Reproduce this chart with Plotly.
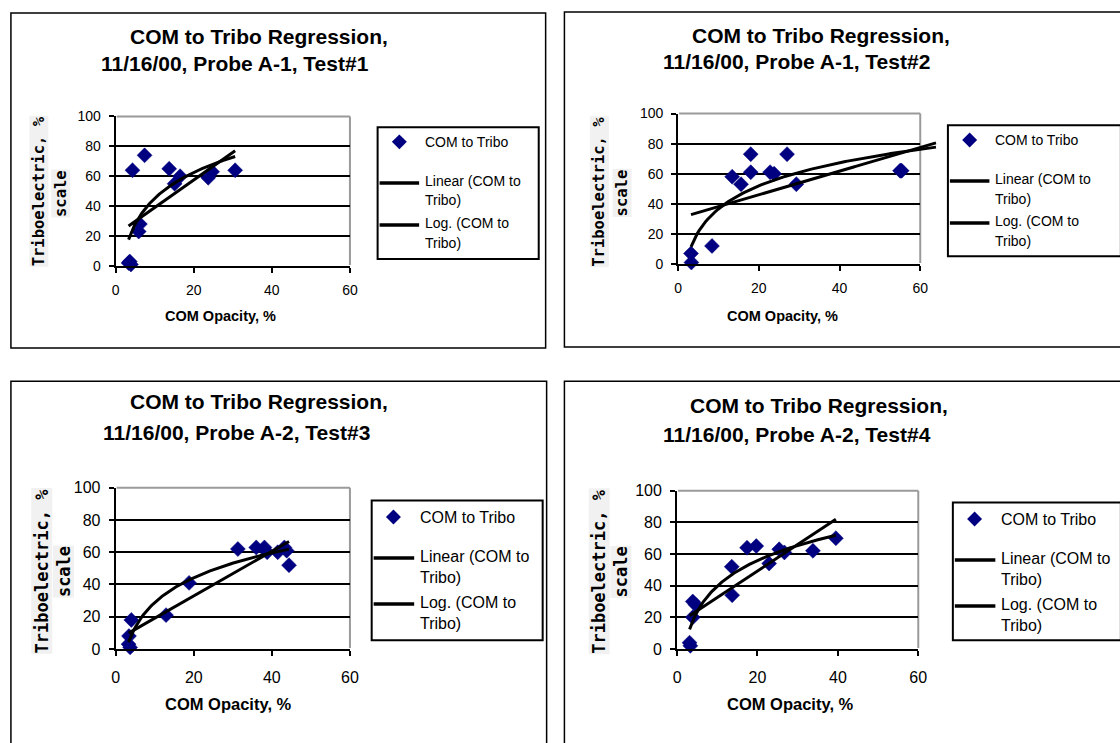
import numpy as np
import plotly.graph_objects as go

W, H = 1120, 743

# ---------------- data ----------------
title_line1 = ["COM to Tribo Regression,"] * 4
title_line2 = ["11/16/00, Probe A-1, Test#1", "11/16/00, Probe A-1, Test#2",
               "11/16/00, Probe A-2, Test#3", "11/16/00, Probe A-2, Test#4"]
x_title = "COM Opacity, %"
y_title1 = "Triboelectric, %"
y_title2 = "scale"
legend_lines = [["COM to Tribo"], ["Linear (COM to", "Tribo)"], ["Log. (COM to", "Tribo)"]]

x_ticks = [0, 20, 40, 60]
y_ticks = [0, 20, 40, 60, 80, 100]

t1_x = [3.3, 3.6, 3.9, 4.3, 5.9, 6.2, 7.4, 13.7, 15.1, 16.5, 23.7, 24.7, 30.6]
t1_y = [2, 3, 1, 64, 23, 28, 74, 65, 55, 60, 59, 63, 64]

t2_x = [3.2, 3.3, 8.4, 13.4, 15.6, 18.0, 18.0, 22.8, 23.8, 27.0, 29.3, 55.0, 55.2, 55.4]
t2_y = [7, 1, 12, 58, 53, 73, 61, 61, 60, 73, 53, 62, 62, 62]

t3_x = [3.3, 3.4, 3.7, 4.0, 12.9, 18.8, 31.3, 36.0, 38.1, 38.8, 41.5, 43.2, 43.8, 44.4]
t3_y = [3, 8, 1, 18, 21, 41, 62, 63, 63, 60, 60, 63, 61, 52]

t4_x = [3.1, 3.3, 3.9, 4.6, 3.9, 13.6, 13.7, 17.4, 19.7, 22.9, 25.4, 26.7, 33.8, 39.5]
t4_y = [4, 2, 30, 28, 20, 52, 34, 64, 65, 54, 63, 61, 62, 70]

tests_x = [t1_x, t2_x, t3_x, t4_x]
tests_y = [t1_y, t2_y, t3_y, t4_y]
forecast_forward = [0, 8.5, 0, 0]   # Excel trendline forward forecast

# ---------------- layout geometry (pixels) ----------------
plot_boxes = [(113, 350, 111, 264), (682, 927, 108, 262),
              (113, 350, 491, 656), (681, 925, 494, 656)]
outer_boxes = [(7, 548, 5, 348), (567, 1130, 4, 347),
               (7, 549, 382, 760), (567, 1130, 382, 760)]
legend_boxes = [(378, 541, 122, 257), (955, 1130, 120, 254),
                (372, 545, 504, 647), (960, 1130, 506, 647)]
title_pos = [((258, 29), (234, 57)), ((827, 28), (802, 55)),
             ((258, 403), (235, 434)), ((825, 407), (802, 436))]
xtitle_pos = [(219, 315), (788, 315), (227, 712), (796, 712)]
ytitle_pos = [((35, 188), (57, 190)), ((602, 188), (625, 189)),
              ((38, 576), (60, 577)), ((602, 577), (624, 577))]
small = [True, True, False, False]
leg_rows_small = [15, 55, 75, 98, 118]
leg_rows_large = [17, 57, 79, 104, 126]

NAVY = "#000080"
BASE = "Liberation Sans, Arial, sans-serif"


def px(x):
    return x / W


def py(y):
    return 1 - y / H


fig = go.Figure()
shapes = []
annotations = []

for i in range(4):
    n = i + 1
    xa = "x" if n == 1 else f"x{n}"
    ya = "y" if n == 1 else f"y{n}"
    l, r, t, b = plot_boxes[i]
    tick_fs = 14 if small[i] else 16
    leg_fs = 14 if small[i] else 16
    ax_fs = 14.5 if small[i] else 16.5
    yt_fs = 15.5 if small[i] else 17

    xs = np.array(tests_x[i], dtype=float)
    ys = np.array(tests_y[i], dtype=float)

    # regression trendlines (as Excel: linear and logarithmic)
    lin = np.polyfit(xs, ys, 1)
    lg = np.polyfit(np.log(xs), ys, 1)
    x_end = xs.max() + forecast_forward[i]
    xx = np.linspace(xs.min(), x_end, 120)

    fig.add_trace(go.Scatter(x=xs, y=ys, mode="markers", xaxis=xa, yaxis=ya,
                             marker=dict(symbol="diamond", size=11.5, color=NAVY,
                                         line=dict(color=NAVY, width=0.5)),
                             cliponaxis=False, showlegend=False,
                             name="COM to Tribo"))

    if forecast_forward[i] > 0:
        txa, tya = f"x{n + 4}", f"y{n + 4}"
        scale = (r - l) / 60.0
        r_ext = l + x_end * scale + 3
        fig.layout[f"xaxis{n + 4}"] = dict(domain=[px(l), px(r_ext)],
                                           range=[0, (r_ext - l) / scale],
                                           visible=False, anchor=tya)
        fig.layout[f"yaxis{n + 4}"] = dict(domain=[py(b), py(t)], range=[0, 100],
                                           visible=False, anchor=txa)
    else:
        txa, tya = xa, ya

    fig.add_trace(go.Scatter(x=xx, y=np.polyval(lin, xx), mode="lines",
                             xaxis=txa, yaxis=tya, line=dict(color="black", width=3),
                             showlegend=False, name="Linear"))
    fig.add_trace(go.Scatter(x=xx, y=np.polyval(lg, np.log(xx)), mode="lines",
                             xaxis=txa, yaxis=tya, line=dict(color="black", width=3),
                             showlegend=False, name="Log"))

    axis_common = dict(showline=True, linecolor="black", linewidth=2,
                       ticks="outside", ticklen=5, tickwidth=2, tickcolor="black",
                       zeroline=False, tickfont=dict(family=BASE, size=tick_fs, color="black"))
    fig.layout["xaxis" if n == 1 else f"xaxis{n}"] = dict(
        domain=[px(l), px(r)], range=[0, 60], tickvals=x_ticks, showgrid=False,
        anchor=ya, ticklabelstandoff=5 if small[i] else 8, **axis_common)
    fig.layout["yaxis" if n == 1 else f"yaxis{n}"] = dict(
        domain=[py(b), py(t)], range=[0, 100], tickvals=y_ticks, showgrid=True,
        gridcolor="black", gridwidth=2, anchor=xa, ticklabelstandoff=5,
        **axis_common)

    # grey plot border (top and right)
    shapes.append(dict(type="line", xref="paper", yref="paper", x0=px(l + 1), x1=px(r),
                       y0=py(t), y1=py(t), line=dict(color="#9a9a9a", width=2), layer="above"))
    shapes.append(dict(type="line", xref="paper", yref="paper", x0=px(r), x1=px(r),
                       y0=py(t), y1=py(b - 1), line=dict(color="#9a9a9a", width=2), layer="below"))

    # outer chart border
    ol, orr, ot, ob = outer_boxes[i]
    shapes.append(dict(type="rect", xref="paper", yref="paper", x0=px(ol), x1=px(orr),
                       y0=py(ob), y1=py(ot), line=dict(color="black", width=1.5)))

    # titles
    for (cx, cy), txt in zip(title_pos[i], [title_line1[i], title_line2[i]]):
        annotations.append(dict(x=px(cx), y=py(cy), xref="paper", yref="paper",
                                text=f"<b>{txt}</b>", showarrow=False,
                                xanchor="center", yanchor="middle",
                                font=dict(family=BASE, size=21, color="black")))
    cx, cy = xtitle_pos[i]
    annotations.append(dict(x=px(cx), y=py(cy), xref="paper", yref="paper",
                            text=f"<b>{x_title}</b>", showarrow=False,
                            xanchor="center", yanchor="middle",
                            font=dict(family=BASE, size=ax_fs, color="black")))
    for (cx, cy), txt in zip(ytitle_pos[i], [y_title1, y_title2]):
        annotations.append(dict(x=px(cx), y=py(cy), xref="paper", yref="paper",
                                text=f"<b>{txt}</b>", showarrow=False, textangle=-90,
                                xanchor="center", yanchor="middle", bgcolor="#f1f1f1",
                                borderpad=0,
                                font=dict(family="DejaVu Sans Mono, monospace",
                                          size=yt_fs, color="black")))

    # legend (drawn)
    ll, lr, lt, lb = legend_boxes[i]
    shapes.append(dict(type="rect", xref="paper", yref="paper", x0=px(ll), x1=px(lr),
                       y0=py(lb), y1=py(lt), line=dict(color="black", width=2),
                       fillcolor="white", layer="below"))
    rows = leg_rows_small if small[i] else leg_rows_large
    mk_x = ll + 22
    tx = ll + 46 if small[i] else ll + 47
    fig.add_trace(go.Scatter(x=[mk_x], y=[lt + rows[0]], mode="markers", xaxis="x9", yaxis="y9",
                             marker=dict(symbol="diamond", size=11.5, color=NAVY),
                             showlegend=False, hoverinfo="skip"))
    texts = [legend_lines[0][0], legend_lines[1][0], legend_lines[1][1],
             legend_lines[2][0], legend_lines[2][1]]
    for txt, off in zip(texts, rows):
        annotations.append(dict(x=px(tx), y=py(lt + off), xref="paper", yref="paper",
                                text=txt, showarrow=False, xanchor="left",
                                yanchor="middle",
                                font=dict(family=BASE, size=leg_fs, color="black")))
    for off in (rows[1], rows[3]):
        yy = lt + off + 2
        shapes.append(dict(type="line", xref="paper", yref="paper", x0=px(ll + 2),
                           x1=px(tx - 4), y0=py(yy), y1=py(yy),
                           line=dict(color="black", width=3.5)))

# full-figure overlay axis for legend markers (pixel space)
fig.layout["xaxis9"] = dict(domain=[0, 1], range=[0, W], visible=False, anchor="y9")
fig.layout["yaxis9"] = dict(domain=[0, 1], range=[H, 0], visible=False, anchor="x9")

fig.update_layout(width=W, height=H, margin=dict(l=0, r=0, t=0, b=0),
                  paper_bgcolor="white", plot_bgcolor="rgba(0,0,0,0)",
                  shapes=shapes, annotations=annotations, showlegend=False)

fig.write_html("out.html", config={"displayModeBar": False},
               post_script="document.body.style.margin='0';")
